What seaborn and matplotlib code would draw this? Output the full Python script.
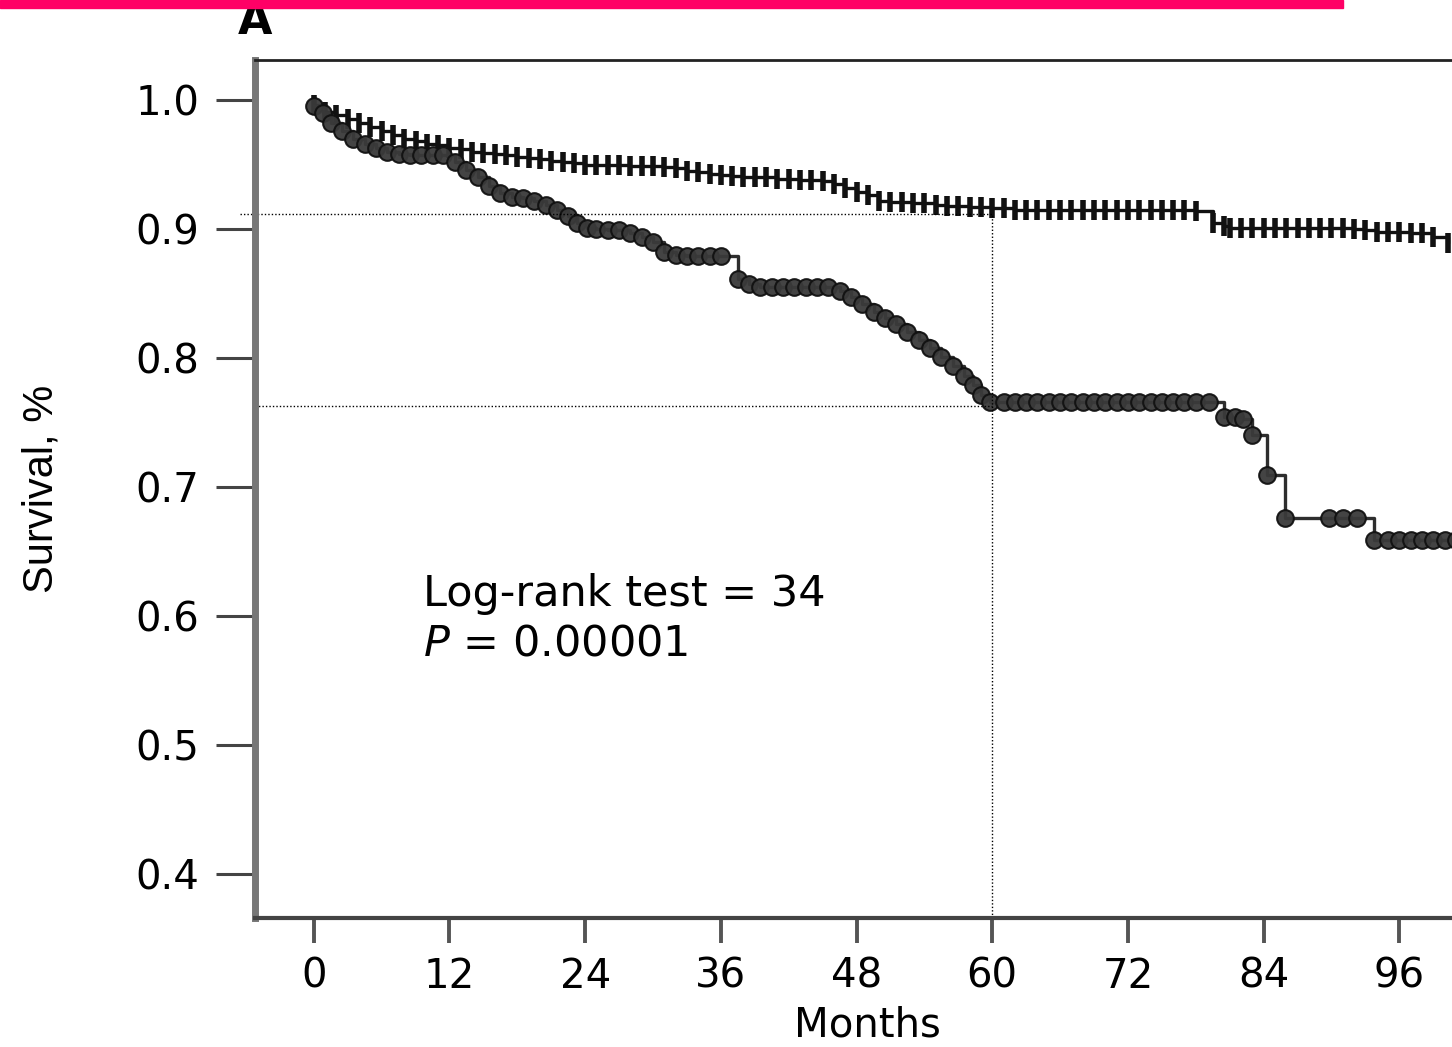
import numpy as np
import pandas as pd
import matplotlib
matplotlib.use("Agg")
import matplotlib.pyplot as plt
import seaborn as sns

# ---------------------------------------------------------------------------
# Data (months, survival)
# ---------------------------------------------------------------------------
upper_months = [0, 1, 2, 3, 4, 5, 6, 7, 8, 9, 10, 11, 12, 13, 14, 15, 16, 17, 18,
                19, 20, 21, 22, 23, 24, 25, 26, 27, 28, 29, 30, 31, 32, 33, 34,
                35, 36, 37, 38, 39, 40, 41, 42, 43, 44, 45, 46, 47, 48, 49, 50,
                51, 52, 53, 54, 55, 56, 57, 58, 59, 60, 61, 62, 63, 64, 65, 66,
                67, 68, 69, 70, 71, 72, 73, 74, 75, 76, 77, 78, 79.5, 80.5, 81,
                82, 83, 84, 85, 86, 87, 88, 89, 90, 91, 92, 93, 94, 95, 96, 97,
                98, 99, 100.3]
upper_surv = [0.996, 0.991, 0.988, 0.985, 0.982, 0.979, 0.976, 0.973, 0.970,
              0.968, 0.966, 0.965, 0.963, 0.962, 0.960, 0.959, 0.958, 0.957,
              0.956, 0.955, 0.954, 0.953, 0.952, 0.951, 0.950, 0.950, 0.950,
              0.950, 0.949, 0.949, 0.949, 0.948, 0.947, 0.945, 0.944, 0.943,
              0.942, 0.941, 0.940, 0.940, 0.940, 0.939, 0.939, 0.938, 0.938,
              0.937, 0.935, 0.932, 0.929, 0.926, 0.922, 0.921, 0.921, 0.920,
              0.920, 0.919, 0.918, 0.918, 0.917, 0.917, 0.916, 0.916, 0.915,
              0.915, 0.915, 0.915, 0.915, 0.915, 0.915, 0.915, 0.915, 0.915,
              0.915, 0.915, 0.915, 0.915, 0.915, 0.915, 0.914, 0.905, 0.902,
              0.901, 0.901, 0.901, 0.901, 0.901, 0.901, 0.901, 0.901, 0.901,
              0.901, 0.901, 0.900, 0.899, 0.898, 0.898, 0.898, 0.897, 0.897,
              0.894, 0.889]

lower_months = [0, 0.8, 1.5, 2.5, 3.5, 4.5, 5.5, 6.5, 7.5, 8.5, 9.5, 10.5, 11.4,
                12.5, 13.5, 14.5, 15.5, 16.5, 17.5, 18.5, 19.5, 20.5, 21.5,
                22.5, 23.3, 24.2, 25.0, 26.0, 27.0, 28.0, 29.0, 30.0, 31.0,
                32.0, 33.0, 34.0, 35.0, 36.0, 37.5, 38.5, 39.5, 40.5, 41.5,
                42.5, 43.5, 44.5, 45.5, 46.5, 47.5, 48.5, 49.5, 50.5, 51.5,
                52.5, 53.5, 54.5, 55.5, 56.5, 57.5, 58.3, 59.0, 59.8, 61, 62,
                63, 64, 65, 66, 67, 68, 69, 70, 71, 72, 73, 74, 75, 76, 77, 78,
                79.2, 80.5, 81.5, 82.2, 83.0, 84.3, 85.9, 89.8, 91.0, 92.3,
                93.8, 95, 96, 97, 98, 99, 100, 101]
lower_surv = [0.995, 0.990, 0.982, 0.976, 0.970, 0.966, 0.963, 0.960, 0.958,
              0.957, 0.957, 0.957, 0.957, 0.952, 0.946, 0.940, 0.933, 0.928,
              0.925, 0.924, 0.922, 0.919, 0.915, 0.910, 0.905, 0.901, 0.900,
              0.899, 0.899, 0.897, 0.894, 0.890, 0.882, 0.880, 0.879, 0.879,
              0.879, 0.879, 0.861, 0.857, 0.855, 0.855, 0.855, 0.855, 0.855,
              0.855, 0.855, 0.852, 0.847, 0.842, 0.836, 0.831, 0.826, 0.820,
              0.814, 0.808, 0.801, 0.794, 0.786, 0.779, 0.771, 0.766, 0.766,
              0.766, 0.766, 0.766, 0.766, 0.766, 0.766, 0.766, 0.766, 0.766,
              0.766, 0.766, 0.766, 0.766, 0.766, 0.766, 0.766, 0.766, 0.766,
              0.754, 0.754, 0.753, 0.740, 0.709, 0.676, 0.676, 0.676, 0.676,
              0.659, 0.659, 0.659, 0.659, 0.659, 0.659, 0.659, 0.659]

x_ticks = [0, 12, 24, 36, 48, 60, 72, 84, 96]
y_ticks = [0.4, 0.5, 0.6, 0.7, 0.8, 0.9, 1.0]
ref_month = 60
ref_upper = 0.912
ref_lower = 0.763

# ---------------------------------------------------------------------------
sns.set_style("white")
plt.rcParams['font.family'] = ['DejaVu Sans']
plt.rcParams['text.color'] = 'black'

fig = plt.figure(figsize=(14.52, 10.47), dpi=100)
ax = fig.add_axes([0.1756, 0.1232, 0.866, 0.8195])

up = pd.DataFrame({'month': upper_months, 'surv': upper_surv})
lo = pd.DataFrame({'month': lower_months, 'surv': lower_surv})

sns.lineplot(data=up, x='month', y='surv', ax=ax, estimator=None, sort=False,
             drawstyle='steps-post', color='#111111', lw=2.4,
             marker='|', markersize=14, markeredgewidth=4,
             markeredgecolor='#111111')
sns.lineplot(data=lo, x='month', y='surv', ax=ax, estimator=None, sort=False,
             drawstyle='steps-post', color='#222222', lw=2.4,
             marker='o', markersize=12, markerfacecolor='#3a3a3a',
             markeredgecolor='#111111', markeredgewidth=1.5, alpha=0.95)

# dotted reference lines (5-year survival)
ax.plot([-6.5, ref_month], [ref_upper, ref_upper], ls=(0, (1, 1.5)), color='black',
        lw=1.0, clip_on=False)
ax.plot([-5.2, ref_month], [ref_lower, ref_lower], ls=(0, (1, 1.5)), color='black',
        lw=1.0)
ax.plot([ref_month, ref_month], [0.366, ref_upper], ls=(0, (1, 1.5)), color='black',
        lw=1.0)

ax.set_xlim(-5.2, 106)
ax.set_ylim(0.366, 1.031)
ax.set_xticks(x_ticks)
ax.set_yticks(y_ticks)
ax.set_yticklabels([f'{v:.1f}' for v in y_ticks])

ax.tick_params(axis='y', length=28, width=2.2, color='#444444', pad=12,
               labelsize=29, direction='out', left=True, labelcolor='black')
ax.tick_params(axis='x', length=18, width=2.8, color='#555555', pad=10,
               labelsize=29, direction='out', bottom=True, labelcolor='black')

ax.spines['left'].set_linewidth(5)
ax.spines['left'].set_color('#777777')
ax.spines['bottom'].set_linewidth(3)
ax.spines['bottom'].set_color('#444444')
ax.spines['top'].set_linewidth(2)
ax.spines['top'].set_color('#222222')
ax.spines['right'].set_visible(False)

ax.set_xlabel('Months', fontsize=29, color='black')
ax.xaxis.set_label_coords(0.487, -0.102)
ax.set_ylabel('Survival, %', fontsize=30, color='black',
              family=['Liberation Sans Narrow', 'Liberation Sans'])
ax.yaxis.set_label_coords(-0.1535, 0.5)

ax.text(9.7, 0.617, 'Log-rank test = 34', fontsize=31, va='center', ha='left',
        color='black')
ax.text(9.7, 0.579, r'$\mathit{P}$ = 0.00001', fontsize=31, va='center', ha='left',
        color='black')

# panel label and magenta banner
fig.text(0.1756, 0.979, 'A', fontsize=32, fontweight='bold', ha='center', va='center',
         color='black')
fig.patches.append(plt.Rectangle((0, 0.9925), 0.925, 0.0075, transform=fig.transFigure,
                                 color='#FF0066', zorder=5))

plt.savefig('out.png', dpi=100)
plt.close()
